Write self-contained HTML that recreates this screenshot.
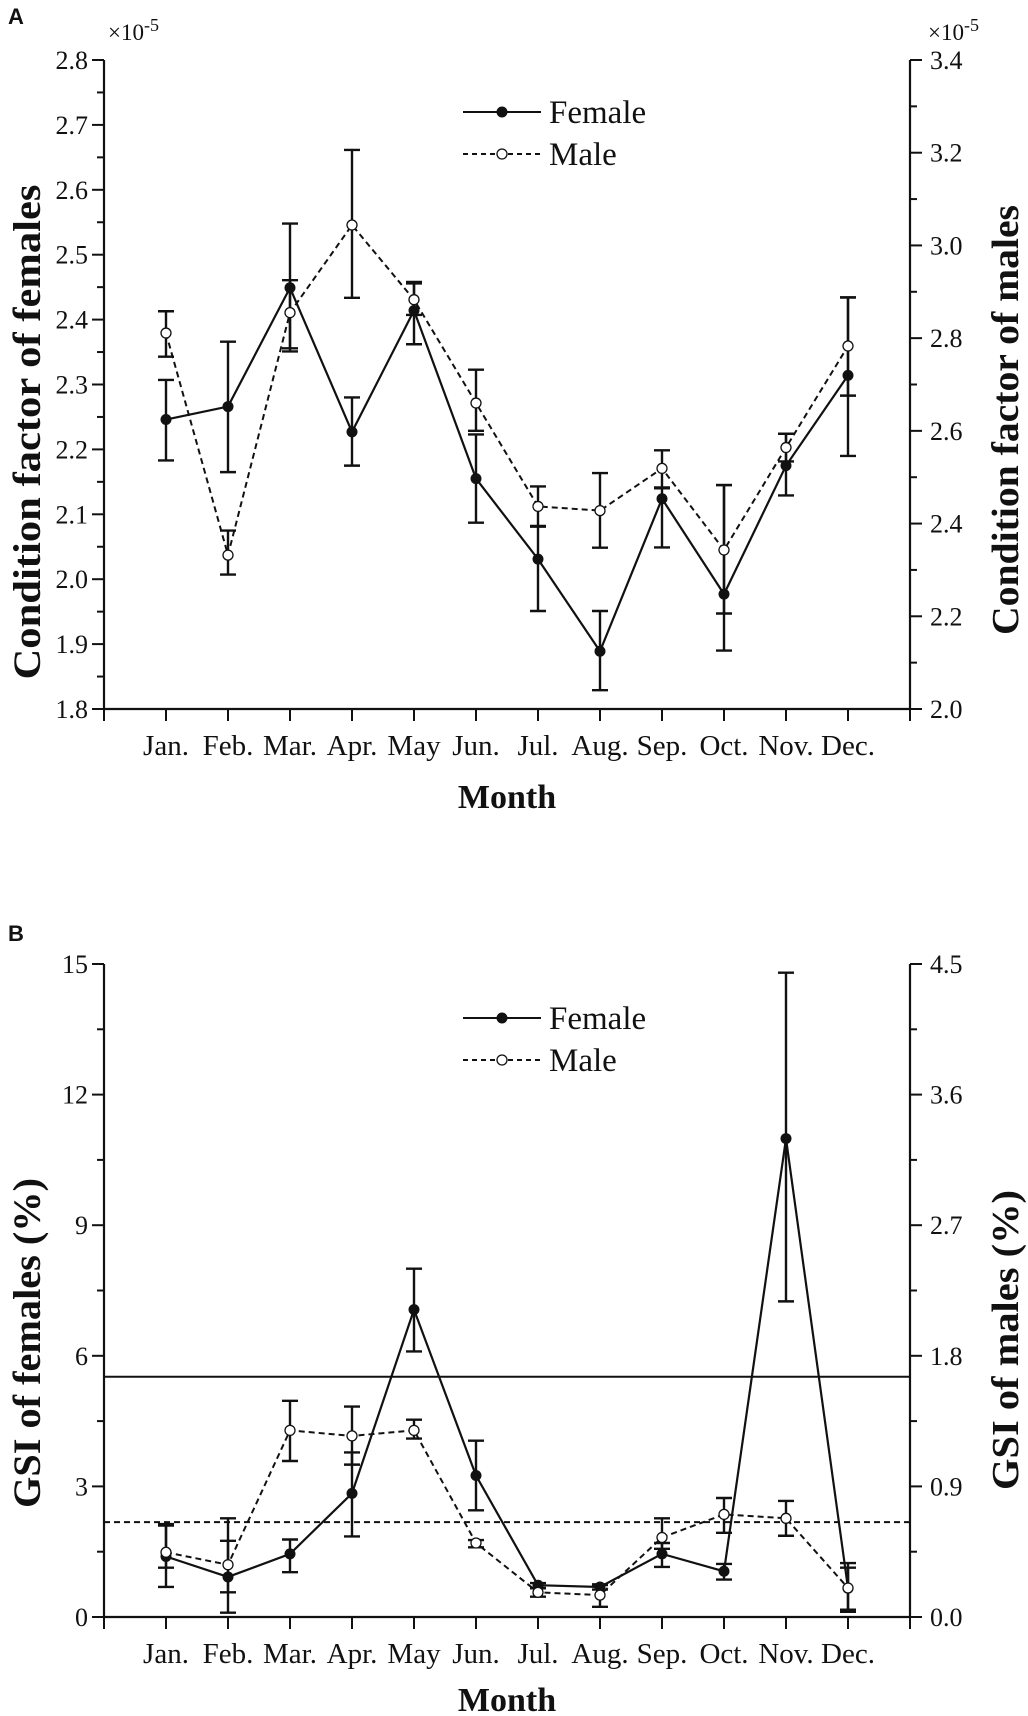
<!DOCTYPE html>
<html><head><meta charset="utf-8">
<style>
body{margin:0;background:#fff;}
svg{display:block;}
text{font-family:"Liberation Serif",serif;fill:#111;}
.lab{font-family:"Liberation Sans",sans-serif;font-weight:bold;}
</style></head>
<body>
<svg id="svg" width="1028" height="1716" viewBox="0 0 1028 1716" xmlns="http://www.w3.org/2000/svg"></svg>
<script>
const months = ["Jan.","Feb.","Mar.","Apr.","May","Jun.","Jul.","Aug.","Sep.","Oct.","Nov.","Dec."];
// Panel A
const aFemale = [2.246,2.266,2.449,2.227,2.414,2.155,2.031,1.889,2.124,1.977,2.175,2.314];
const aFemaleLo = [2.183,2.165,2.351,2.175,2.362,2.087,1.951,1.829,2.049,1.890,2.129,2.190];
const aFemaleHi = [2.307,2.366,2.548,2.280,2.458,2.223,2.081,1.951,2.140,2.145,2.224,2.434];
const aMale = [2.811,2.332,2.855,3.044,2.883,2.660,2.437,2.428,2.519,2.343,2.564,2.783];
const aMaleLo = [2.760,2.290,2.778,2.887,2.850,2.600,2.395,2.348,2.478,2.206,2.534,2.676];
const aMaleHi = [2.858,2.385,2.925,3.206,2.918,2.732,2.480,2.509,2.558,2.483,2.594,2.888];
const aLeftTicks = ["1.8","1.9","2.0","2.1","2.2","2.3","2.4","2.5","2.6","2.7","2.8"];
const aRightTicks = ["2.0","2.2","2.4","2.6","2.8","3.0","3.2","3.4"];
// Panel B
const bFemale = [1.39,0.92,1.45,2.84,7.06,3.25,0.73,0.69,1.45,1.05,10.99,0.66];
const bFemaleLo = [0.69,0.10,1.03,1.85,6.10,2.45,0.66,0.63,1.15,0.86,7.25,0.12];
const bFemaleHi = [2.10,1.75,1.78,3.78,8.00,4.05,0.78,0.75,1.70,1.22,14.80,1.24];
const bMale = [0.446,0.36,1.286,1.248,1.286,0.51,0.17,0.151,0.548,0.707,0.68,0.20];
const bMaleLo = [0.34,0.17,1.075,1.05,1.23,0.48,0.14,0.07,0.47,0.58,0.56,0.05];
const bMaleHi = [0.64,0.68,1.49,1.45,1.36,0.53,0.20,0.22,0.68,0.82,0.80,0.34];
const bFemaleMean = [5.52];
const bMaleMean = [0.654];
const bLeftTicks = ["0","3","6","9","12","15"];
const bRightTicks = ["0.0","0.9","1.8","2.7","3.6","4.5"];

const NS="http://www.w3.org/2000/svg";
const svg=document.getElementById('svg');
function mk(tag,attrs,parent,txt){const e=document.createElementNS(NS,tag);for(const k in attrs)e.setAttribute(k,attrs[k]);if(txt!==undefined)e.textContent=txt;(parent||svg).appendChild(e);return e;}

function panel(o){
  const g=mk('g',{});
  
  
  const L=104,R=910,T=o.top,B=o.bottom;
  const xs=i=>L+(i+1)*(R-L)/13;
  const yl=v=>B-(v-o.lmin)/(o.lmax-o.lmin)*(B-T);
  const yr=v=>B-(v-o.rmin)/(o.rmax-o.rmin)*(B-T);
  const ax=mk('path',{d:`M${L},${T}V${B}H${R}V${T}`,fill:'none',stroke:'#111','stroke-width':2.2},g);
  
  
  o.lt.forEach((t,i)=>{const v=parseFloat(t);const y=yl(v);
    mk('line',{x1:L-12,x2:L,y1:y,y2:y,stroke:'#111','stroke-width':2},g);
    const tx=mk('text',{x:L-16,y:y+9,'text-anchor':'end','font-size':26},g,t);
    
    
    if(i<o.lt.length-1){const v2=parseFloat(o.lt[i+1]);const ym=yl((v+v2)/2);mk('line',{x1:L-7,x2:L,y1:ym,y2:ym,stroke:'#111','stroke-width':2},g);}
  });
  o.rt.forEach((t,i)=>{const v=parseFloat(t);const y=yr(v);
    mk('line',{x1:R,x2:R+12,y1:y,y2:y,stroke:'#111','stroke-width':2},g);
    const tx=mk('text',{x:R+20,y:y+9,'font-size':26},g,t);
    
    
    if(i<o.rt.length-1){const v2=parseFloat(o.rt[i+1]);const ym=yr((v+v2)/2);mk('line',{x1:R,x2:R+7,y1:ym,y2:ym,stroke:'#111','stroke-width':2},g);}
  });
  for(let i=-1;i<=12;i++){const x=L+(i+1)*(R-L)/13;mk('line',{x1:x,x2:x,y1:B,y2:B+12,stroke:'#111','stroke-width':2},g);}
  months.forEach((m,i)=>{const tx=mk('text',{x:xs(i),y:B+46,'text-anchor':'middle','font-size':29},g,m);
    
    });
  const mt=mk('text',{x:507,y:o.mty,'text-anchor':'middle','font-size':34,'font-weight':'bold'},g,'Month');
  
  
  const lt=mk('text',{x:0,y:0,'text-anchor':'middle','font-size':39,'font-weight':'bold',textLength:o.lLen,lengthAdjust:'spacingAndGlyphs',transform:`translate(40,${o.lcy}) rotate(-90)`},g,o.ltitle);
  
  
  const rtt=mk('text',{x:0,y:0,'text-anchor':'middle','font-size':38,'font-weight':'bold',textLength:o.rLen,lengthAdjust:'spacingAndGlyphs',transform:`translate(1018,${o.rcy}) rotate(-90)`},g,o.rtitle);
  
  
  const pl=mk('text',{x:8,y:o.lettery,'font-size':22,class:'lab'},g,o.letter);
  
  
  if(o.exp){
    [[108,T-20],[928,T-20]].forEach(p=>{const t=mk('text',{x:p[0],y:p[1],'font-size':23},g);
      
      
      t.innerHTML='×10<tspan dy="-9" font-size="18">-5</tspan>';});
  }
  if(o.fmean){o.fmean.forEach(v=>{const l=mk('line',{x1:L,x2:R,y1:yl(v),y2:yl(v),stroke:'#111','stroke-width':2},g);
      });
    o.mmean.forEach(v=>{const l=mk('line',{x1:L,x2:R,y1:yr(v),y2:yr(v),stroke:'#111','stroke-width':2,'stroke-dasharray':'6,4'},g);
      });}
  function errs(lo,hi,ys,nm){lo.forEach((v,i)=>{const x=xs(i);const eg=mk('path',{d:`M${x},${ys(lo[i])}V${ys(hi[i])}M${x-8},${ys(lo[i])}H${x+8}M${x-8},${ys(hi[i])}H${x+8}`,stroke:'#111','stroke-width':2.4,fill:'none'},g);
    });}
  errs(o.fLo,o.fHi,yl,'female-error-bar');
  errs(o.mLo,o.mHi,yr,'male-error-bar');
  const fl=mk('polyline',{points:o.f.map((v,i)=>xs(i)+','+yl(v)).join(' '),fill:'none',stroke:'#111','stroke-width':2.2},g);
  
  const ml=mk('polyline',{points:o.m.map((v,i)=>xs(i)+','+yr(v)).join(' '),fill:'none',stroke:'#111','stroke-width':2,'stroke-dasharray':'6,4'},g);
  
  o.f.forEach((v,i)=>{const c=mk('circle',{cx:xs(i),cy:yl(v),r:5.5,fill:'#111'},g);
    });
  o.m.forEach((v,i)=>{const c=mk('circle',{cx:xs(i),cy:yr(v),r:5,fill:'#fff',stroke:'#111','stroke-width':1.3},g);
    });
  const lg=mk('g',{},g);
  
  const y1=o.legy,y2=o.legy+42;
  mk('line',{x1:463,x2:541,y1:y1,y2:y1,stroke:'#111','stroke-width':2},lg);
  mk('circle',{cx:502,cy:y1,r:5.5,fill:'#111'},lg);
  const t1=mk('text',{x:549,y:y1+11,'font-size':33},lg,'Female');
  
  mk('line',{x1:463,x2:541,y1:y2,y2:y2,stroke:'#111','stroke-width':2,'stroke-dasharray':'5,4'},lg);
  mk('circle',{cx:502,cy:y2,r:5,fill:'#fff',stroke:'#111','stroke-width':1.3},lg);
  const t2=mk('text',{x:549,y:y2+11,'font-size':33},lg,'Male');
  
}
panel({name:'panel-a-condition-factor',top:60,bottom:709,lmin:1.8,lmax:2.8,rmin:2.0,rmax:3.4,lt:aLeftTicks,rt:aRightTicks,
  f:aFemale,fLo:aFemaleLo,fHi:aFemaleHi,m:aMale,mLo:aMaleLo,mHi:aMaleHi,mty:808,ltitle:'Condition factor of females',rtitle:'Condition factor of males',
  lLen:495,rLen:430,lcy:432,rcy:420,letter:'A',lettery:24,exp:true,legy:112});
panel({name:'panel-b-gsi',top:964,bottom:1617,lmin:0,lmax:15,rmin:0,rmax:4.5,lt:bLeftTicks,rt:bRightTicks,
  f:bFemale,fLo:bFemaleLo,fHi:bFemaleHi,m:bMale,mLo:bMaleLo,mHi:bMaleHi,mty:1711,ltitle:'GSI of females (%)',rtitle:'GSI of males (%)',
  lLen:330,rLen:300,lcy:1343,rcy:1340,letter:'B',lettery:941,exp:false,legy:1018,fmean:bFemaleMean,mmean:bMaleMean});
</script>
</body></html>
